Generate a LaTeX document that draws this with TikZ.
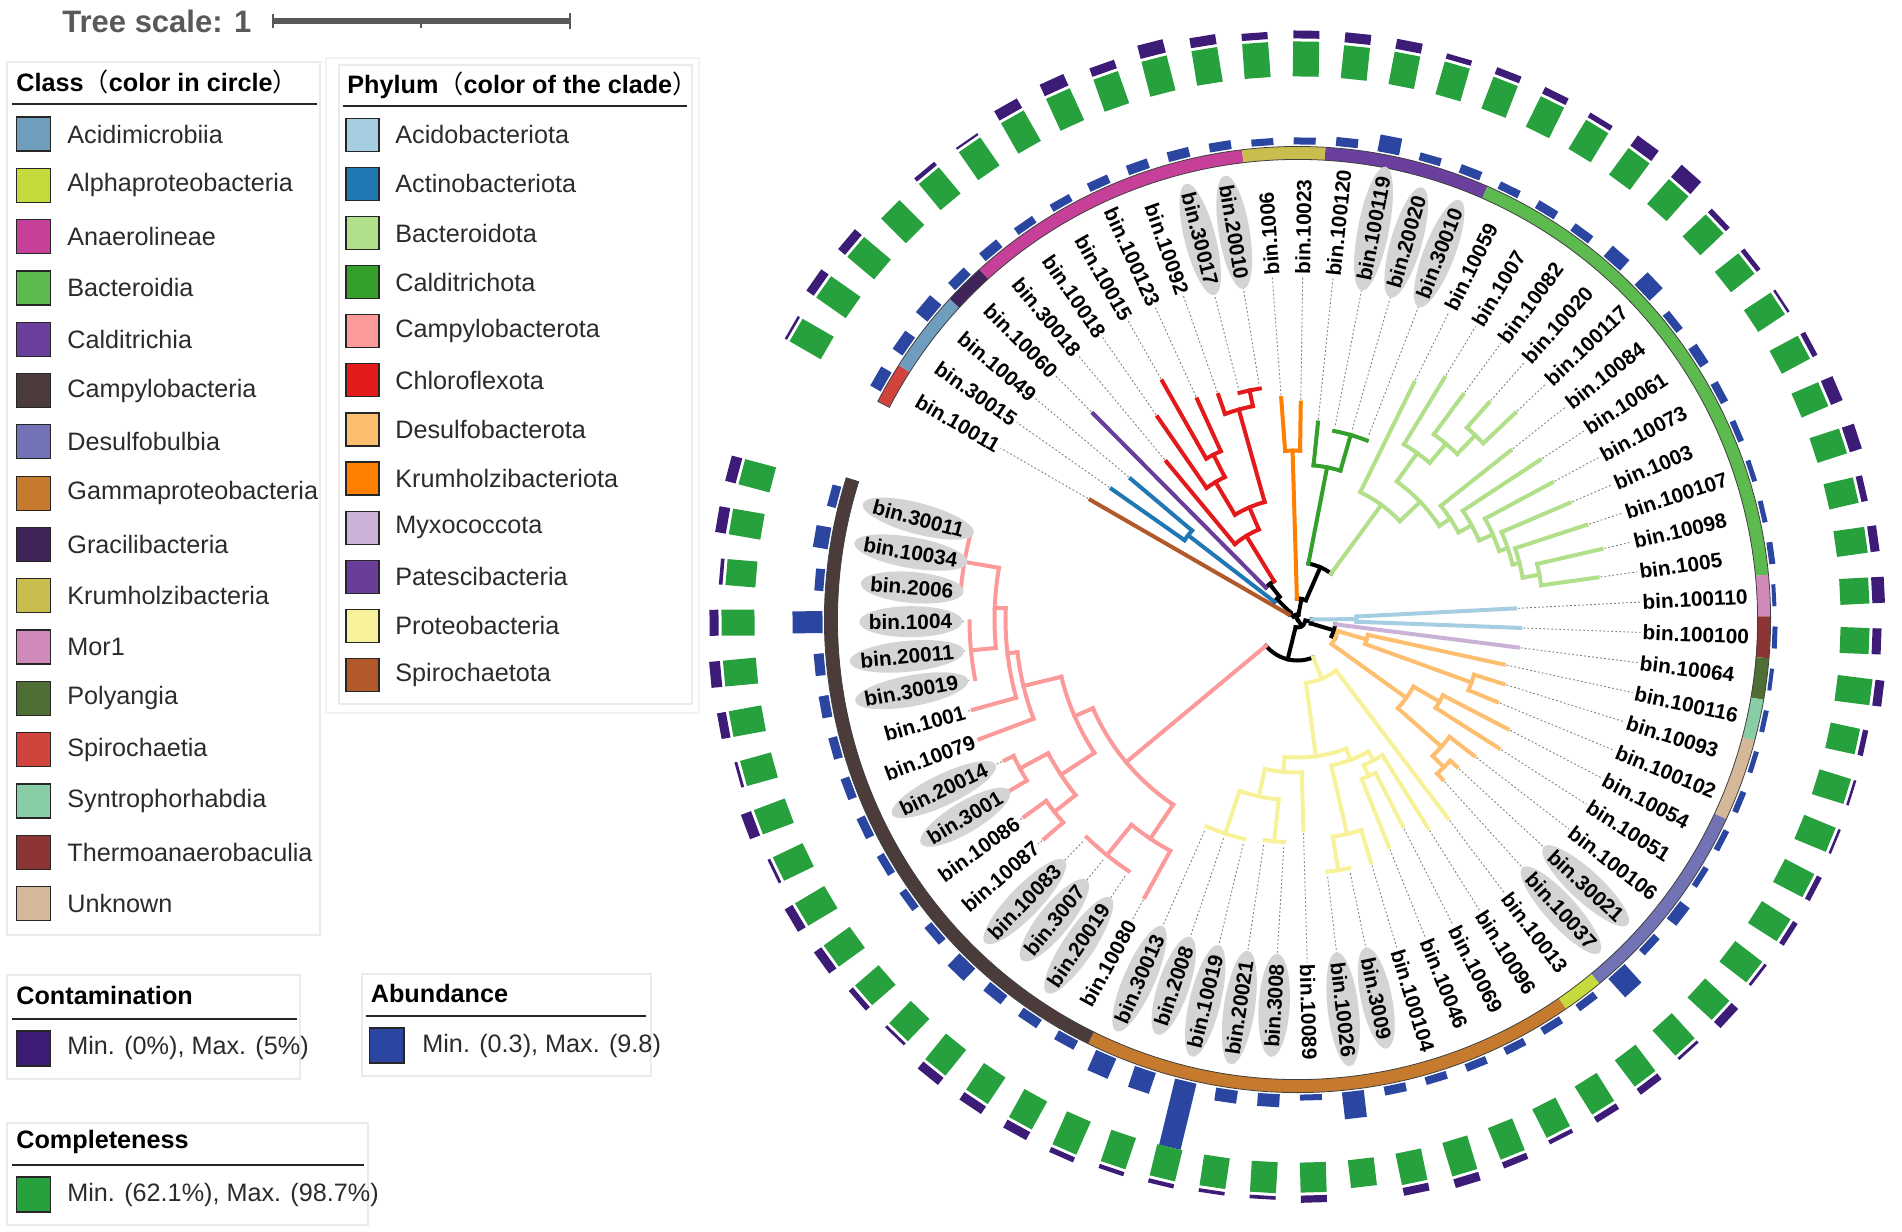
\documentclass[tikz,border=0pt]{standalone}
\usepackage{fontspec}
\setmainfont{Liberation Sans}
\newfontfamily\cjk{Noto Sans CJK SC}
\usetikzlibrary{calc}
% phylum colours
\definecolor{pSpi}{HTML}{B15928}\definecolor{pAct}{HTML}{1F78B4}\definecolor{pPat}{HTML}{6A3D9A}
\definecolor{pChl}{HTML}{E31A1C}\definecolor{pKru}{HTML}{FF7F00}\definecolor{pCal}{HTML}{33A02C}
\definecolor{pBac}{HTML}{B2DF8A}\definecolor{pAci}{HTML}{A6CEE3}\definecolor{pMyx}{HTML}{CAB2D6}
\definecolor{pDes}{HTML}{FDBF6F}\definecolor{pPro}{HTML}{F7F29A}\definecolor{pCam}{HTML}{FB9A99}
% class colours
\definecolor{cAcid}{HTML}{6E9DBD}\definecolor{cAlph}{HTML}{C6DA3C}\definecolor{cAnae}{HTML}{C6409A}
\definecolor{cBact}{HTML}{5DBA4F}\definecolor{cCald}{HTML}{6A3F9E}\definecolor{cCamp}{HTML}{4B3B3A}
\definecolor{cDesu}{HTML}{7273B5}\definecolor{cGamm}{HTML}{C57A2E}\definecolor{cGrac}{HTML}{3E2459}
\definecolor{cKrum}{HTML}{C9BD4E}\definecolor{cMor}{HTML}{D08AB9}\definecolor{cPoly}{HTML}{4F6E33}
\definecolor{cSpir}{HTML}{D1433D}\definecolor{cSynt}{HTML}{88CDA5}\definecolor{cTher}{HTML}{8D3535}
\definecolor{cUnkn}{HTML}{D5B89A}
% data colours
\definecolor{abund}{HTML}{2A46A0}\definecolor{compl}{HTML}{27A03E}\definecolor{contam}{HTML}{3D1C78}
\definecolor{txt}{HTML}{2B2B2B}
\pgfmathdeclarefunction{la}{1}{\pgfmathparse{210+(#1-1)*5.072}}
\newcommand\TRad[4]{\pgfmathsetmacro\tA{la(#2)}\draw[#1] (\tA:#3) -- (\tA:#4);}
\newcommand\TArc[4]{\pgfmathsetmacro\tA{la(#2)}\pgfmathsetmacro\tB{la(#3)}\draw[#1] (\tA:#4) arc[start angle=\tA, end angle=\tB, radius=#4];}
\newcommand\lblfont{\fontsize{10.4}{12}\selectfont\bfseries}
\tikzset{
 tb/.style={line width=2pt, line cap=rect},
 blk/.style={tb, black},
 lgt/.style={font=\fontsize{12.6}{15}\selectfont, text=txt, inner sep=0pt},
 lgh/.style={font=\fontsize{12.6}{15}\selectfont\bfseries, text=black, inner sep=0pt},
 lbox/.style={draw=black!8, line width=0.8pt, fill=white},
 lboxo/.style={draw=black!5, line width=0.8pt},
 uline/.style={draw=black!85, line width=0.7pt},
 sq/.style={draw=black!85, line width=0.6pt},
 lbl/.style={font=\lblfont, inner sep=0pt, text=black},
 hl/.style={fill=black!17},
 lead/.style={draw=black!50, line width=0.45pt, dash pattern=on 0.9pt off 1.1pt},
 ringedge/.style={draw=black!75, line width=0.4pt},
}
\begin{document}
\begin{tikzpicture}[x=0.5pt,y=-0.5pt]
\useasboundingbox (0,0) rectangle (1902,1232);
\fill[white] (0,0) rectangle (1902,1232);

% ---------------- tree scale ----------------
\node[font=\fontsize{15.5}{18}\selectfont\bfseries, text=black!65, anchor=west, inner sep=0pt] (ts) at (62,21) {Tree scale: 1};
\draw[black!65, line width=3pt] (273,21) -- (570,21);
\draw[black!65, line width=1pt] (273,14) -- (273,28) (570,13) -- (570,29) (421,21) -- (421,28);

% ---------------- class legend ----------------
\draw[lbox] (7,62) rectangle (320,935);
\node[lgh, anchor=west] (hcls) at (16,82) {Class{\cjk\mdseries （}color in circle{\cjk\mdseries ）}};
\draw[uline] (12,104) -- (317,104);
\foreach \k/\col/\txt in {0/cAcid/Acidimicrobiia,1/cAlph/Alphaproteobacteria,2/cAnae/Anaerolineae,3/cBact/Bacteroidia,4/cCald/Calditrichia,5/cCamp/Campylobacteria,6/cDesu/Desulfobulbia,7/cGamm/Gammaproteobacteria,8/cGrac/Gracilibacteria,9/cKrum/Krumholzibacteria,10/cMor/Mor1,11/cPoly/Polyangia,12/cSpir/Spirochaetia,13/cSynt/Syntrophorhabdia,14/cTher/Thermoanaerobaculia,15/cUnkn/Unknown}{
  \pgfmathsetmacro\yy{117+51.3*\k}
  \filldraw[sq, fill=\col] (16.5,\yy) rectangle (50.5,{\yy+34});
  \node[lgt, anchor=west] (cls\k) at (67,{\yy+17}) {\txt};
}

% ---------------- phylum legend ----------------
\draw[lboxo] (326,58) rectangle (699,713);
\draw[lbox] (339,65) rectangle (692,704);
\node[lgh, anchor=west] (hphy) at (347,85) {Phylum{\cjk\mdseries （}color of the clade{\cjk\mdseries ）}};
\draw[uline] (343,106) -- (687,106);
\foreach \k/\col/\txt in {0/pAci/Acidobacteriota,1/pAct/Actinobacteriota,2/pBac/Bacteroidota,3/pCal/Calditrichota,4/pCam/Campylobacterota,5/pChl/Chloroflexota,6/pDes/Desulfobacterota,7/pKru/Krumholzibacteriota,8/pMyx/Myxococcota,9/pPat/Patescibacteria,10/pPro/Proteobacteria,11/pSpi/Spirochaetota}{
  \pgfmathsetmacro\yy{118.3+49.1*\k}
  \filldraw[sq, fill=\col] (346,\yy) rectangle (379,{\yy+33});
  \node[lgt, anchor=west] (phy\k) at (395,{\yy+16.5}) {\txt};
}

% ---------------- data legends ----------------
\draw[lbox] (7,975) rectangle (300,1079);
\node[lgh, anchor=west] (hcon) at (16,995) {Contamination};
\draw[uline] (12,1019) -- (297,1019);
\filldraw[sq, fill=contam] (16.5,1031) rectangle (50.5,1066);
\node[lgt, anchor=west] (tcon) at (67,1048) {Min. (0\%), Max. (5\%)};

\draw[lbox] (362,974) rectangle (651,1076);
\node[lgh, anchor=west] (habu) at (370.5,993) {Abundance};
\draw[uline] (366,1016) -- (646,1016);
\filldraw[sq, fill=abund] (369.6,1028) rectangle (404,1063);
\node[lgt, anchor=west] (tabu) at (422,1046) {Min. (0.3), Max. (9.8)};

\draw[lbox] (7,1123) rectangle (368,1225);
\node[lgh, anchor=west] (hcom) at (16,1142) {Completeness};
\draw[uline] (12,1165) -- (364,1165);
\filldraw[sq, fill=compl] (16.5,1177) rectangle (50.5,1212);
\node[lgt, anchor=west] (tcom) at (67,1195) {Min. (62.1\%), Max. (98.7\%)};

% ---------------- circular tree ----------------
\begin{scope}[shift={(1297.5,619.5)}]
% leader lines
\foreach \li/\vt in {1/239,2/227,3/218,4/290,5/205,6/246,7/274,8/242,9/238,10/236,11/236,12/222,13/217,14/198,15/195,16/195,17/195,18/264,19/283,20/279,21/289,22/300,23/272,24/290,25/289,26/296,27/304,28/312,29/303,30/218,31/223,32/222,33/211,34/216,35/216,36/237,37/239,38/223,39/217,40/216,41/249,42/246,43/232,44/245,45/254,46/256,47/256,48/211,49/225,50/225,51/228,52/228,53/228,54/317,55/306,56/306,57/306,58/335,59/337,60/336,61/325,62/340,63/337,64/331,65/331,66/331,67/341,68/341,69/341}{
  \pgfmathsetmacro\ang{la(\li)}
  \draw[lead] (\ang:{\vt+3}) -- (\ang:343);
}

% black backbone
\TRad{blk}{8.72}{0}{5}
\TRad{blk}{41.6}{0}{8}
\TArc{blk}{2.453}{14.99}{5}
\TRad{blk}{2.453}{5}{10}
\TRad{blk}{14.99}{5}{21}
\TArc{blk}{1}{3.906}{10}
\TRad{blk}{3.906}{10}{29}
\TArc{blk}{2.5}{5.3125}{29}
\TRad{blk}{5.3125}{29}{45}
\TArc{blk}{4}{6.625}{45}
\TArc{blk}{12.5}{17.48}{21}
\TRad{blk}{17.48}{21}{57}
\TArc{blk}{15}{19.96}{57}
\TArc{blk}{32.17}{51.06}{8}
\TRad{blk}{32.17}{8}{14}
\TRad{blk}{51.06}{8}{41}
\TArc{blk}{30.5}{33.84}{14}
\TRad{blk}{33.84}{14}{38}
\TArc{blk}{32}{35.69}{38}
\TRad{blk}{35.69}{38}{42}
\TArc{blk}{43.9}{58.22}{41}

% Spirochaetota
\TRad{tb,pSpi}{1}{10}{239}
% Actinobacteriota
\TRad{tb,pAct}{2.5}{29}{138}
\TArc{tb,pAct}{2}{3}{138}
\TRad{tb,pAct}{2}{138}{227}
\TRad{tb,pAct}{3}{138}{218}
% Patescibacteria
\TRad{tb,pPat}{4}{45}{290}
% Chloroflexota
\TRad{tb,pChl}{6.625}{45}{98}
\TArc{tb,pChl}{5}{8.25}{98}
\TRad{tb,pChl}{5}{98}{205}
\TRad{tb,pChl}{8.25}{98}{122}
\TArc{tb,pChl}{6.75}{9.75}{122}
\TRad{tb,pChl}{6.75}{122}{160}
\TRad{tb,pChl}{9.75}{122}{218}
\TArc{tb,pChl}{6}{7.5}{160}
\TRad{tb,pChl}{6}{160}{246}
\TRad{tb,pChl}{7.5}{160}{185}
\TArc{tb,pChl}{7}{8}{185}
\TRad{tb,pChl}{7}{185}{274}
\TRad{tb,pChl}{8}{185}{242}
\TArc{tb,pChl}{9}{10.5}{218}
\TRad{tb,pChl}{9}{218}{238}
\TRad{tb,pChl}{10.5}{218}{234}
\TArc{tb,pChl}{10}{11}{234}
% Krumholzibacteriota
\TRad{tb,pKru}{12.5}{21}{169}
\TArc{tb,pKru}{12}{13}{169}
\TRad{tb,pKru}{12}{169}{222}
\TRad{tb,pKru}{13}{169}{217}
% Calditrichota
\TRad{tb,pCal}{15}{57}{155}
\TArc{tb,pCal}{14}{16}{155}
\TRad{tb,pCal}{14}{155}{198}
\TRad{tb,pCal}{16}{155}{192}
\TArc{tb,pCal}{15}{17}{192}
% Bacteroidota
\TRad{tb,pBac}{19.96}{57}{142}
\TArc{tb,pBac}{18}{21.93}{142}
\TRad{tb,pBac}{18}{142}{264}
\TRad{tb,pBac}{21.93}{142}{170}
\TArc{tb,pBac}{19.875}{23.984}{170}
\TRad{tb,pBac}{19.875}{170}{205}
\TRad{tb,pBac}{23.984}{170}{183}
\TArc{tb,pBac}{19}{20.75}{205}
\TRad{tb,pBac}{19}{205}{283}
\TRad{tb,pBac}{20.75}{205}{230}
\TArc{tb,pBac}{20}{21.5}{230}
\TRad{tb,pBac}{20}{230}{279}
\TRad{tb,pBac}{21.5}{230}{256}
\TArc{tb,pBac}{21}{22}{256}
\TRad{tb,pBac}{21}{256}{289}
\TRad{tb,pBac}{22}{256}{300}
\TArc{tb,pBac}{23}{24.97}{183}
\TRad{tb,pBac}{23}{183}{272}
\TRad{tb,pBac}{24.97}{183}{198}
\TArc{tb,pBac}{24}{25.9375}{198}
\TRad{tb,pBac}{24}{198}{290}
\TRad{tb,pBac}{25.9375}{198}{213}
\TArc{tb,pBac}{25}{26.875}{213}
\TRad{tb,pBac}{25}{213}{289}
\TRad{tb,pBac}{26.875}{213}{222}
\TArc{tb,pBac}{26}{27.75}{222}
\TRad{tb,pBac}{26}{222}{296}
\TRad{tb,pBac}{27.75}{222}{229}
\TArc{tb,pBac}{27}{28.5}{229}
\TRad{tb,pBac}{27}{229}{304}
\TRad{tb,pBac}{28.5}{229}{246}
\TArc{tb,pBac}{28}{29}{246}
\TRad{tb,pBac}{28}{246}{312}
\TRad{tb,pBac}{29}{246}{303}
% Acidobacteriota
\TRad{tb,pAci}{30.5}{14}{59}
\TArc{tb,pAci}{30}{31}{59}
\TRad{tb,pAci}{30}{59}{218}
\TRad{tb,pAci}{31}{59}{223}
% Myxococcota
\TRad{tb,pMyx}{32}{38}{222}
% Desulfobacterota
\TArc{tb,pDes}{33.75}{37.625}{42}
\TRad{tb,pDes}{33.75}{42}{72}
\TRad{tb,pDes}{37.625}{42}{134}
\TArc{tb,pDes}{33}{34.5}{72}
\TRad{tb,pDes}{33}{72}{211}
\TRad{tb,pDes}{34.5}{72}{185}
\TArc{tb,pDes}{34}{35}{185}
\TRad{tb,pDes}{34}{185}{216}
\TRad{tb,pDes}{35}{185}{216}
\TArc{tb,pDes}{36.5}{38.75}{134}
\TRad{tb,pDes}{36.5}{134}{164}
\TRad{tb,pDes}{38.75}{134}{192}
\TArc{tb,pDes}{36}{37}{164}
\TRad{tb,pDes}{36}{164}{237}
\TRad{tb,pDes}{37}{164}{239}
\TArc{tb,pDes}{38}{39.5}{192}
\TRad{tb,pDes}{38}{192}{223}
\TRad{tb,pDes}{39.5}{192}{208}
\TArc{tb,pDes}{39}{40}{208}
\TRad{tb,pDes}{39}{208}{217}
\TRad{tb,pDes}{40}{208}{216}
% Proteobacteria
\TRad{tb,pPro}{43.9}{41}{64}
\TArc{tb,pPro}{41}{46.81}{64}
\TRad{tb,pPro}{41}{64}{249}
\TRad{tb,pPro}{46.81}{64}{138}
\TArc{tb,pPro}{44.25}{49.375}{138}
\TRad{tb,pPro}{44.25}{138}{150}
\TRad{tb,pPro}{49.375}{138}{153}
\TArc{tb,pPro}{42.75}{45.75}{150}
\TRad{tb,pPro}{42.75}{150}{160}
\TRad{tb,pPro}{45.75}{150}{220}
\TArc{tb,pPro}{42}{43.5}{160}
\TRad{tb,pPro}{42}{160}{246}
\TRad{tb,pPro}{43.5}{160}{172}
\TArc{tb,pPro}{43}{44}{172}
\TRad{tb,pPro}{43}{172}{232}
\TRad{tb,pPro}{44}{172}{245}
\TArc{tb,pPro}{45}{46.5}{220}
\TRad{tb,pPro}{45}{220}{254}
\TRad{tb,pPro}{46.5}{220}{254}
\TArc{tb,pPro}{46}{47}{254}
\TArc{tb,pPro}{48}{50.75}{153}
\TRad{tb,pPro}{48}{153}{211}
\TRad{tb,pPro}{50.75}{153}{181}
\TArc{tb,pPro}{49.5}{52}{181}
\TRad{tb,pPro}{49.5}{181}{223}
\TRad{tb,pPro}{52}{181}{226}
\TArc{tb,pPro}{49}{50}{223}
\TArc{tb,pPro}{51}{53}{226}
% Campylobacterota
\TRad{tb,pCam}{58.22}{41}{223}
\TArc{tb,pCam}{55}{61.44}{223}
\TRad{tb,pCam}{55}{223}{264}
\TRad{tb,pCam}{61.44}{223}{243}
\TArc{tb,pCam}{54}{56}{264}
\TRad{tb,pCam}{54}{264}{317}
\TRad{tb,pCam}{56}{264}{303}
\TArc{tb,pCam}{55}{57}{303}
\TArc{tb,pCam}{59.5}{63.375}{243}
\TRad{tb,pCam}{59.5}{243}{283}
\TRad{tb,pCam}{63.375}{243}{282}
\TArc{tb,pCam}{58.5}{60.5}{283}
\TRad{tb,pCam}{58.5}{283}{310}
\TRad{tb,pCam}{60.5}{283}{315}
\TArc{tb,pCam}{58}{59}{310}
\TRad{tb,pCam}{58}{310}{335}
\TRad{tb,pCam}{59}{310}{337}
\TArc{tb,pCam}{60}{61}{315}
\TRad{tb,pCam}{60}{315}{336}
\TRad{tb,pCam}{61}{315}{325}
\TArc{tb,pCam}{62}{64.75}{282}
\TRad{tb,pCam}{62}{282}{340}
\TRad{tb,pCam}{64.75}{282}{292}
\TArc{tb,pCam}{63}{66.5}{292}
\TRad{tb,pCam}{63}{292}{337}
\TRad{tb,pCam}{66.5}{292}{303}
\TArc{tb,pCam}{65}{68}{303}
\TRad{tb,pCam}{65}{303}{328}
\TRad{tb,pCam}{68}{303}{338}
\TArc{tb,pCam}{64}{66}{328}
\TArc{tb,pCam}{67}{69}{338}

% class ring
\foreach \col/\ra/\rb in {cSpir/1/1,cAcid/2/3,cGrac/4/4,cAnae/5/11,cKrum/12/13,cCald/14/17,cBact/18/29,cMor/30/30,cTher/31/31,cPoly/32/32,cSynt/33/33,cUnkn/34/35,cDesu/36/40,cAlph/41/41,cGamm/42/53,cCamp/54/69}{
  \pgfmathsetmacro\tA{la(\ra-0.5)}\pgfmathsetmacro\tB{la(\rb+0.5)}
  \fill[\col] (\tA:460) arc[start angle=\tA, end angle=\tB, radius=460] -- (\tB:473) arc[start angle=\tB, end angle=\tA, radius=473] -- cycle;
}
\pgfmathsetmacro\tA{la(0.5)}\pgfmathsetmacro\tB{la(69.5)}
\draw[ringedge] (\tA:460) arc[start angle=\tA, end angle=\tB, radius=460] -- (\tB:473) arc[start angle=\tB, end angle=\tA, radius=473] -- cycle;

% labels, highlights and bars
\foreach \li/\nm/\vh/\vb/\vg/\vc in {1/10011/0/12/36/0.7,2/30015/0/12/36/2.5,3/10049/0/15/35/2.5,4/10060/0/10/35/0,5/30018/0/10/34/1.2,6/10018/0/8/34/0.6,7/10015/0/8/35/3,8/100123/0/9/35/3.5,9/10092/0/10/34/2.5,10/30017/1/10/36/3.8,11/20010/1/9/35/2.8,12/1006/0/7/35/2,13/10023/0/7/35/2.2,14/100120/0/9/33/2.8,15/100119/1/17/33/2.8,16/20020/1/8/34/1.5,17/30010/1/9/34/2,18/10059/0/8/34/2,19/1007/0/9/34/1.5,20/10082/0/9/33/3.5,21/10020/0/14/33/4.5,22/100117/0/18/32/1.5,23/10084/0/8/30/1.3,24/10061/0/10/32/0.7,25/10073/0/8/32/1.5,26/1003/0/6/29/3.5,27/100107/0/5/31/3.5,28/10098/0/5/30/1.8,29/1005/0/6/31/2.5,30/100110/0/4/29/3.5,31/100100/0/5/29/2.5,32/10064/0/4/35/2.5,33/100116/0/5/30/1.5,34/10093/0/5/33/0.7,35/100102/0/6/34/0.7,36/10054/0/6/33/1.5,37/10051/0/6/34/1.5,38/100106/0/12/34/0.8,39/30021/1/8/33/2.5,40/10037/1/25/34/0.8,41/10013/0/8/33/2,42/10096/0/8/33/1.8,43/10069/0/8/32/1.2,44/10046/0/8/34/1.8,45/100104/0/8/35/2.5,46/3009/1/9/32/2.2,47/10026/1/27/28/0,48/10089/0/6/30/2,49/3008/1/13/31/1,50/20021/1/13/31/1,51/10019/1/68/32/1.2,52/2008/1/22/33/1.2,53/30013/1/22/36/1.5,54/10080/0/10/32/2.5,55/20019/1/10/32/2.5,56/3007/1/11/33/2.5,57/10083/1/17/31/0.8,58/10087/0/9/31/1.5,59/10086/0/8/32/2.5,60/3001/1/8/34/2.5,61/20014/1/9/33/0.8,62/10079/0/9/33/3,63/1001/0/9/32/0.8,64/30019/1/10/33/2.5,65/20011/1/10/33/3,66/1004/1/30/33/2.5,67/2006/1/9/30/1,68/10034/1/15/32/3,69/30011/1/9/32/3}{
  \pgfmathsetmacro\ang{la(\li)}
  \begin{scope}[rotate=-\ang]
    \fill[abund] (475,-11) rectangle ({475+\vb},11);
    \fill[compl] (543,-13) rectangle ({543+\vg},13);
    \ifdim\vc pt>0pt \fill[contam] ({546+\vg},-13) rectangle ({546+\vg+3.6*\vc},13);\fi
  \end{scope}
  \ifnum\nm>99999 \def\nd{6}\else\ifnum\nm>9999 \def\nd{5}\else\def\nd{4}\fi\fi
  \pgfmathsetmacro\L{(1.778+0.556*\nd)*20.8}
  \ifnum\vh=1
    \begin{scope}[shift={(\ang:{345+\L/2})}, rotate=-\ang]
      \fill[hl] (0,0) ellipse[x radius={\L/2+10}, y radius=15.5];
    \end{scope}
  \fi
  \ifnum\li<12 \def\flip{1}\else\ifnum\li>48 \def\flip{1}\else\def\flip{0}\fi\fi
  \ifnum\flip=1
    \node[lbl, anchor=east, rotate={180-\ang}] (L\li) at (\ang:345) {bin.\nm};
  \else
    \node[lbl, anchor=west, rotate={-\ang}] (L\li) at (\ang:345) {bin.\nm};
  \fi
}
\end{scope}
\end{tikzpicture}
\end{document}
